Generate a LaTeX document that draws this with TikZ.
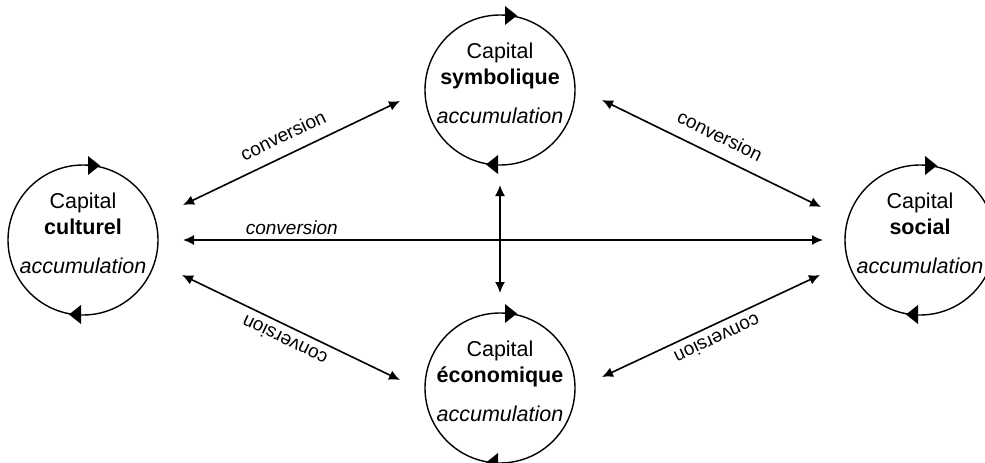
\documentclass[tikz,border=0pt]{standalone}
\usepackage{fontspec}
\setmainfont{Liberation Sans}
\usetikzlibrary{arrows.meta}
\tikzset{
  capcircle/.style={circle, draw, line width=1.4pt, minimum size=150pt, inner sep=0pt},
  captext/.style={align=center, font=\fontsize{21.5}{26}\selectfont},
  conv/.style={line width=1.6pt, {Latex[length=11pt,width=10pt]}-{Latex[length=11pt,width=10pt]}},
  convlabel/.style={font=\fontsize{19}{22}\selectfont, sloped, allow upside down, inner sep=0pt},
  turn/.style={fill=black},
}
\newcommand{\turnmarks}[1]{%
  \fill[turn] ([shift={(5,-84)}]#1.center) -- ++(0,19) -- ++(12,-9.5) -- cycle;
  \fill[turn] ([shift={(-2,65)}]#1.center) -- ++(0,19) -- ++(-12,-9.5) -- cycle;
}
\begin{document}
\begin{tikzpicture}[x=1pt,y=-1pt]
\useasboundingbox (0,0) rectangle (985,463);

\node[capcircle] (cult) at (83,240) {};
\node[capcircle] (sym)  at (500,90) {};
\node[capcircle] (soc)  at (920,240) {};
\node[capcircle] (eco)  at (500,388) {};

\node[captext] (cultT) at ([shift={(0,-7)}]cult.center) {Capital\\\textbf{culturel}\\[13pt]\textit{accumulation}};
\node[captext] (symT)  at ([shift={(0,-7)}]sym.center)  {Capital\\\textbf{symbolique}\\[13pt]\textit{accumulation}};
\node[captext] (socT)  at ([shift={(0,-7)}]soc.center)  {Capital\\\textbf{social}\\[13pt]\textit{accumulation}};
\node[captext] (ecoT)  at ([shift={(0,-7)}]eco.center)  {Capital\\\textbf{économique}\\[13pt]\textit{accumulation}};

\turnmarks{cult}
\turnmarks{sym}
\turnmarks{soc}
\turnmarks{eco}

% connector end points
\coordinate (cA) at ([shift={(100,-35)}]cult.center);
\coordinate (sA) at ([shift={(-100,11)}]sym.center);
\coordinate (sB) at ([shift={(102,10)}]sym.center);
\coordinate (oB) at ([shift={(-99,-33)}]soc.center);
\coordinate (cH) at ([shift={(100,0)}]cult.center);
\coordinate (oH) at ([shift={(-97,0)}]soc.center);
\coordinate (sV) at ([shift={(0,95)}]sym.center);
\coordinate (eV) at ([shift={(0,-95)}]eco.center);
\coordinate (cC) at ([shift={(99,35)}]cult.center);
\coordinate (eC) at ([shift={(-100,-8)}]eco.center);
\coordinate (eD) at ([shift={(102,-11)}]eco.center);
\coordinate (oD) at ([shift={(-100,35)}]soc.center);

\draw[conv] (cA) -- node[convlabel, above=12pt] (lA) {conversion} (sA);
\draw[conv] (sB) -- node[convlabel, above=12pt] (lB) {conversion} (oB);
\draw[conv] (cH) -- node[pos=0.17, above=5pt, inner sep=0pt, font=\fontsize{19}{22}\selectfont\itshape] (lH) {conversion} (oH);
\draw[conv] (sV) -- (eV);
\draw[conv] (eC) -- node[convlabel, above=7pt] (lC) {conversion} (cC);
\draw[conv] (oD) -- node[convlabel, above=7pt] (lD) {conversion} (eD);
\end{tikzpicture}
\end{document}
